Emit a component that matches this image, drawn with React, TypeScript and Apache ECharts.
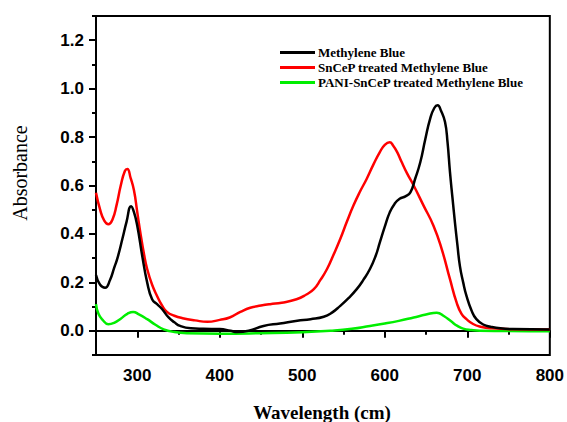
import React, { useEffect, useRef } from "react";
import * as echarts from "echarts";

const seriesNames = [
  "Methylene Blue",
  "SnCeP treated Methylene Blue",
  "PANI-SnCeP treated Methylene Blue",
];

const mbX = [250, 255, 261, 267, 272, 276, 282, 287, 292.5, 296, 300, 306, 312, 318, 324, 330, 338, 345, 352, 365, 380, 400, 413, 421, 435, 453, 473, 494, 510, 526, 536, 546, 556, 566, 574, 582, 589, 594, 600, 606, 612, 618, 625, 631, 637, 643, 649, 655, 660, 664, 668, 673, 676, 679, 682, 685, 688, 691, 695, 699, 705, 711, 720, 728, 740, 755, 800];
const mbY = [0.23, 0.19, 0.178, 0.21, 0.26, 0.3, 0.38, 0.45, 0.514, 0.49, 0.434, 0.31, 0.2, 0.13, 0.11, 0.09, 0.055, 0.035, 0.02, 0.01, 0.008, 0.007, 0.0, -0.005, 0.0, 0.02, 0.03, 0.041, 0.048, 0.058, 0.075, 0.103, 0.135, 0.172, 0.21, 0.255, 0.31, 0.365, 0.43, 0.489, 0.525, 0.545, 0.555, 0.572, 0.63, 0.696, 0.79, 0.876, 0.92, 0.931, 0.91, 0.862, 0.78, 0.655, 0.55, 0.448, 0.355, 0.268, 0.2, 0.144, 0.085, 0.048, 0.025, 0.017, 0.01, 0.007, 0.005];

const snX = [250, 255, 260, 265, 270, 275, 280, 285, 288, 292, 296, 300, 304, 308, 312, 318, 324, 330, 336, 345, 355, 370, 385, 400, 412, 425, 437, 450, 461, 475, 493, 505, 514, 522, 530, 538, 546, 554, 562, 570, 578, 586, 594, 600, 606, 610, 615, 620, 627, 635, 647, 659, 669, 679, 687, 693, 699, 707, 716, 730, 755, 800];
const snY = [0.57, 0.5, 0.455, 0.44, 0.46, 0.52, 0.6, 0.66, 0.668, 0.63, 0.58, 0.49, 0.4, 0.32, 0.255, 0.19, 0.144, 0.105, 0.078, 0.062, 0.052, 0.043, 0.037, 0.045, 0.055, 0.078, 0.095, 0.104, 0.11, 0.116, 0.13, 0.15, 0.172, 0.21, 0.255, 0.315, 0.379, 0.45, 0.517, 0.575, 0.627, 0.685, 0.738, 0.768, 0.779, 0.765, 0.738, 0.7, 0.65, 0.6, 0.517, 0.434, 0.337, 0.213, 0.117, 0.07, 0.048, 0.028, 0.017, 0.01, 0.006, 0.005];

const paniX = [250, 253, 258, 265, 272, 280, 288, 295, 302, 312, 322, 332, 345, 360, 400, 450, 500, 534, 560, 582, 600, 617, 635, 650, 663, 672, 680, 688, 695, 705, 715, 800];
const paniY = [0.11, 0.07, 0.045, 0.027, 0.033, 0.05, 0.07, 0.078, 0.068, 0.048, 0.025, 0.006, -0.005, -0.01, -0.012, -0.01, -0.006, 0.0, 0.008, 0.02, 0.03, 0.041, 0.055, 0.067, 0.075, 0.06, 0.04, 0.02, 0.009, 0.003, 0.0, -0.002];

const xLabelValues = [300, 400, 500, 600, 700, 800];
const xMinorTicks = [250, 350, 450, 550, 650, 750];
const yLabelValues = [0, 0.2, 0.4, 0.6, 0.8, 1.0, 1.2];
const yMinorTicks = [-0.1, 0.1, 0.3, 0.5, 0.7, 0.9, 1.1, 1.3];

const colors = ["#000000", "#ff0000", "#00ee00"];

const zip = (xs: number[], ys: number[]) => xs.map((x, i) => [x, ys[i]]);

export default function App() {
  const ref = useRef<HTMLDivElement>(null);
  useEffect(() => {
    if (!ref.current) return;
    const chart = echarts.init(ref.current, null, { renderer: "svg" });
    const axisLine = { show: true, lineStyle: { color: "#000", width: 2 } };
    const labelFont = {
      color: "#000",
      fontFamily: "Liberation Sans, Arial, sans-serif",
      fontWeight: "bold" as const,
      fontSize: 17,
    };
    chart.setOption({
      animation: false,
      backgroundColor: "#fff",
      grid: {
        left: 96,
        right: 15,
        top: 16,
        bottom: 67,
        show: true,
        borderColor: "#000",
        borderWidth: 2,
        containLabel: false,
      },
      legend: {
        show: true,
        orient: "vertical",
        left: 280,
        top: 46,
        padding: 0,
        icon: "rect",
        itemWidth: 35,
        itemHeight: 3,
        itemGap: 2,
        data: seriesNames,
        textStyle: {
          color: "#000",
          fontFamily: "Liberation Serif, Times New Roman, serif",
          fontWeight: "bold",
          fontSize: 13,
          lineHeight: 13,
          padding: [0, 0, 0, -2],
        },
      },
      xAxis: [
        {
          type: "value",
          min: 250,
          max: 800,
          interval: 50,
          axisLine,
          splitLine: { show: false },
          axisTick: { show: true, customValues: xLabelValues, length: 7, lineStyle: { color: "#000", width: 2 } },
          axisLabel: { ...labelFont, customValues: xLabelValues, margin: 12 },
        },
        {
          type: "value",
          min: 250,
          max: 800,
          interval: 50,
          position: "bottom",
          axisLine: { show: false },
          splitLine: { show: false },
          axisTick: { show: true, customValues: xMinorTicks, length: 4, lineStyle: { color: "#000", width: 2 } },
          axisLabel: { show: false },
        },
      ],
      yAxis: [
        {
          type: "value",
          min: -0.1,
          max: 1.3,
          interval: 0.1,
          axisLine,
          splitLine: { show: false },
          axisTick: { show: true, customValues: yLabelValues, length: 7, lineStyle: { color: "#000", width: 2 } },
          axisLabel: {
            ...labelFont,
            customValues: yLabelValues,
            margin: 12,
            formatter: (v: number) => v.toFixed(1),
          },
        },
        {
          type: "value",
          min: -0.1,
          max: 1.3,
          interval: 0.1,
          position: "left",
          axisLine: { show: false },
          splitLine: { show: false },
          axisTick: { show: true, customValues: yMinorTicks, length: 4, lineStyle: { color: "#000", width: 2 } },
          axisLabel: { show: false },
        },
      ],
      graphic: [
        {
          type: "text",
          x: 20,
          y: 173,
          rotation: Math.PI / 2,
          style: {
            text: "Absorbance",
            fill: "#000",
            font: "20px 'Liberation Serif', 'Times New Roman', serif",
            textAlign: "center",
            textVerticalAlign: "middle",
          },
        },
        {
          type: "text",
          x: 322,
          y: 412,
          style: {
            text: "Wavelength (cm)",
            fill: "#000",
            font: "bold 19px 'Liberation Serif', 'Times New Roman', serif",
            textAlign: "center",
            textVerticalAlign: "middle",
          },
        },
      ],
      series: [
        { x: mbX, y: mbY },
        { x: snX, y: snY },
        { x: paniX, y: paniY },
      ].map((s, i) => ({
        name: seriesNames[i],
        type: "line",
        data: zip(s.x, s.y),
        smooth: 0.5,
        showSymbol: false,
        symbol: "none",
        lineStyle: { color: colors[i], width: 2.5 },
        itemStyle: { color: colors[i] },
        z: 3 - i,
      })),
    });
    return () => chart.dispose();
  }, []);
  return <div ref={ref} style={{ width: 567, height: 422, position: "absolute", left: 0, top: 0 }} />;
}
